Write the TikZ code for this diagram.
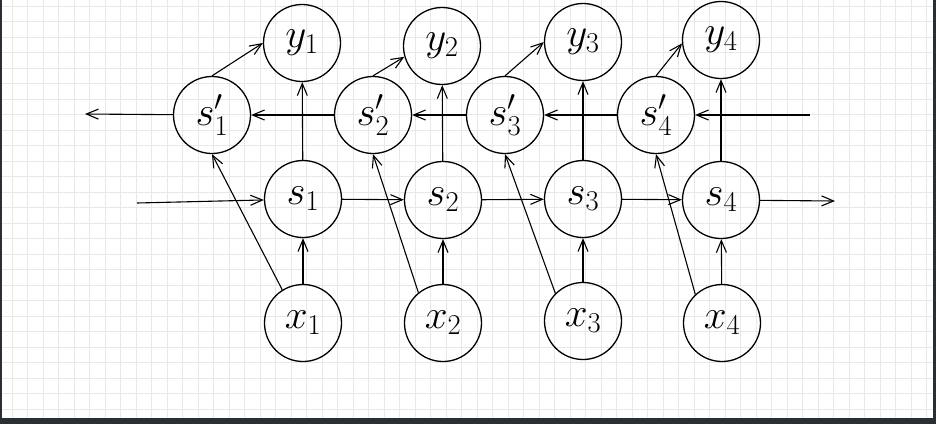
\documentclass[tikz,border=0pt]{standalone}
\usepackage{fix-cm}
\usetikzlibrary{arrows.meta}
\definecolor{frame}{HTML}{2A2E35}
\definecolor{gridc}{HTML}{E8E8E8}
\tikzset{
  unit/.style={draw, circle, line width=1.3pt, minimum size=77pt, inner sep=0pt,
               font=\fontsize{41}{48}\selectfont},
  link/.style={line width=1.1pt, -{Straight Barb[length=12pt,width=10pt,line width=1.1pt]}},
}
\begin{document}
\begin{tikzpicture}[x=1pt, y=-1pt]
\useasboundingbox (0,0) rectangle (936,424);
\fill[frame] (0,0) rectangle (936,424);
\fill[white] (2,0) rectangle (933,418);
\foreach \k in {0,...,59} \draw[gridc, line width=0.8pt] ({12.3+15.5*\k},0) -- ({12.3+15.5*\k},418);
\foreach \k in {0,...,26} \draw[gridc, line width=0.8pt] (2,{6+15.5*\k}) -- (933,{6+15.5*\k});

\node[unit] (y1) at (302,43) {$y_1$};
\node[unit] (y2) at (442,46) {$y_2$};
\node[unit] (y3) at (583,42) {$y_3$};
\node[unit] (y4) at (721,40) {$y_4$};
\node[unit] (p1) at (212,115) {$s'_1$};
\node[unit] (p2) at (373,115) {$s'_2$};
\node[unit] (p3) at (505,115) {$s'_3$};
\node[unit] (p4) at (656,115) {$s'_4$};
\node[unit] (s1) at (303,199) {$s_1$};
\node[unit] (s2) at (443,200) {$s_2$};
\node[unit] (s3) at (583,199) {$s_3$};
\node[unit] (s4) at (721,200) {$s_4$};
\node[unit] (x1) at (303,323) {$x_1$};
\node[unit] (x2) at (443,323) {$x_2$};
\node[unit] (x3) at (583,321) {$x_3$};
\node[unit] (x4) at (722,323) {$x_4$};

\coordinate (lout) at (85,114);
\coordinate (lin) at (137,203);
\coordinate (rin) at (810,115);
\coordinate (rout) at (835,201);

\draw[link] (p1) -- (lout);
\draw[link] (lin) -- (s1);
\draw[link] (rin) -- (p4);
\draw[link] (s4) -- (rout);
\foreach \i/\a/\b in {1/122/180, 2/129/196, 3/135/180, 4/133/185} {
  \draw[link] (x\i) -- (s\i);
  \draw[link] (s\i) -- (y\i);
  \draw[link] (x\i.\a) -- (p\i.south);
  \draw[link] (p\i.north) -- (y\i.\b);
}
\foreach \i/\j in {1/2, 2/3, 3/4} {
  \draw[link] (s\i) -- (s\j);
  \draw[link] (p\j) -- (p\i);
}
\end{tikzpicture}
\end{document}
